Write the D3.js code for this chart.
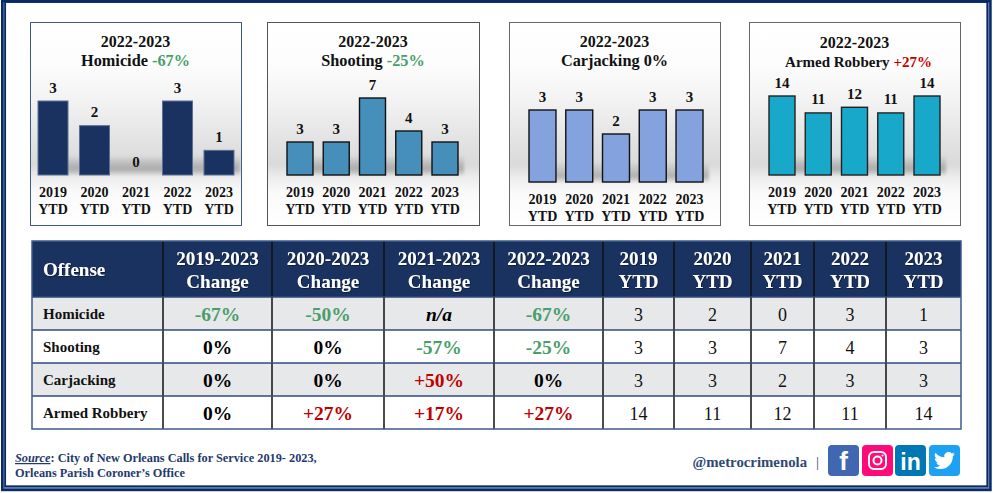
<!DOCTYPE html>
<html>
<head>
<meta charset="utf-8">
<script src="https://cdn.jsdelivr.net/npm/d3@7"></script>
<style>
  html, body { margin: 0; padding: 0; background: #fff; }
  svg { display: block; font-family: "Liberation Serif", serif; font-weight: bold; }
</style>
</head>
<body>
<svg id="chart" width="993" height="493"></svg>
<script>
const years = ["2019", "2020", "2021", "2022", "2023"];
const offenses = ["Homicide", "Shooting", "Carjacking", "Armed Robbery"];
const homicide = [3, 2, 0, 3, 1];
const shooting = [3, 3, 7, 4, 3];
const carjacking = [3, 3, 2, 3, 3];
const armedRobbery = [14, 11, 12, 11, 14];
const changeHeaders = ["2019-2023", "2020-2023", "2021-2023", "2022-2023"];
const homicideChange = ["-67%", "-50%", "n/a", "-67%"];
const shootingChange = ["0%", "0%", "-57%", "-25%"];
const carjackingChange = ["0%", "0%", "+50%", "0%"];
const robberyChange = ["0%", "+27%", "+17%", "+27%"];

const NAVY = "#1a3260";
const GREEN = "#4a9e6b";
const RED = "#c00000";

function changeColor(s) {
  if (s[0] === "-") return GREEN;
  if (s[0] === "+") return RED;
  return "#000";
}

const svg = d3.select("#chart");
const defs = svg.append("defs");

const bg = defs.append("linearGradient").attr("id", "panelBg").attr("x1", 0).attr("x2", 0).attr("y1", 0).attr("y2", 1);
[[0, "#fff"], [0.2, "#fdfdfd"], [0.38, "#f3f3f3"], [0.58, "#e3e3e3"], [0.7, "#dadada"], [0.76, "#ececec"], [0.84, "#fafafa"], [1, "#fff"]]
  .forEach(s => bg.append("stop").attr("offset", s[0]).attr("stop-color", s[1]));

const shade = defs.append("linearGradient").attr("id", "floorShade").attr("x1", 0).attr("x2", 0).attr("y1", 0).attr("y2", 1);
shade.append("stop").attr("offset", 0).attr("stop-color", "#888").attr("stop-opacity", 0);
shade.append("stop").attr("offset", 0.7).attr("stop-color", "#888").attr("stop-opacity", 0.6);
shade.append("stop").attr("offset", 1).attr("stop-color", "#888").attr("stop-opacity", 0.15);

defs.append("filter").attr("id", "soft").attr("x", "-20%").attr("width", "140%")
  .append("feGaussianBlur").attr("stdDeviation", 1.5);

defs.append("filter").attr("id", "hdrShadow")
  .append("feDropShadow").attr("dx", 0.7).attr("dy", 0.7).attr("stdDeviation", 0.5)
  .attr("flood-color", "#000").attr("flood-opacity", 0.6);

// outer frame, the gap between the two lines is a paler blue
svg.append("rect").attr("x", 3.4).attr("y", 1.5).attr("width", 985.5).attr("height", 487)
  .attr("fill", "none").attr("stroke", "#5f7db0").attr("stroke-width", 3);
svg.append("rect").attr("x", 2.2).attr("y", 1.2).attr("width", 988.3).attr("height", 488.8)
  .attr("fill", "none").attr("stroke", "#0a2a66").attr("stroke-width", 2.4);
svg.append("rect").attr("x", 5.2).attr("y", 2).attr("width", 982).attr("height", 484.2)
  .attr("fill", "none").attr("stroke", "#0a2a66").attr("stroke-width", 1.7);

const panels = [
  { name: "Homicide", change: "-67%", values: homicide, x0: 30, x1: 241, left: 38, right: 234, base: 175, top: 101, yMax: 3, fill: "#1a3260", edge: "#5a7096", edgeWidth: 1, frame: "#3d5a8c", titleY: 47, tickY: 197, subSize: 16.3, subShift: 0, padding: 0.277 },
  { name: "Shooting", change: "-25%", values: shooting, x0: 267, x1: 479, left: 287, right: 458, base: 175, top: 98, yMax: 7, fill: "#468fbb", edge: "#111", edgeWidth: 1.4, frame: "#555", titleY: 47, tickY: 197, subSize: 16.3, subShift: 0, padding: 0.283 },
  { name: "Carjacking", change: "0%", values: carjacking, x0: 509, x1: 720, left: 529, right: 703, base: 182, top: 110, yMax: 3, fill: "#84a2dd", edge: "#111", edgeWidth: 1.4, frame: "#666", titleY: 47, tickY: 204, subSize: 16.3, subShift: 0, padding: 0.266 },
  { name: "Armed Robbery", change: "+27%", values: armedRobbery, x0: 749, x1: 960, left: 769, right: 940, base: 175, top: 96, yMax: 14, fill: "#18a8c9", edge: "#222", edgeWidth: 1.4, frame: "#666", titleY: 48, tickY: 197, subSize: 15, subShift: 4, padding: 0.283 }
];

panels.forEach(p => {
  const g = svg.append("g");
  g.append("rect").attr("x", p.x0 + 0.5).attr("y", 22.5).attr("width", p.x1 - p.x0).attr("height", 203)
    .attr("fill", "url(#panelBg)").attr("stroke", p.frame).attr("stroke-width", 1);

  const x = d3.scaleBand().domain(years).range([p.left, p.right]).paddingInner(p.padding).paddingOuter(0);
  const y = d3.scaleLinear().domain([0, p.yMax]).range([p.base, p.top]);

  // soft shadow on the floor behind the bars
  g.append("rect").attr("x", p.left + 4).attr("y", p.base - 20)
    .attr("width", p.right - p.left + 2)
    .attr("height", 20).attr("fill", "url(#floorShade)").attr("filter", "url(#soft)");

  g.append("text").attr("text-anchor", "middle").attr("x", (p.x0 + p.x1) / 2)
    .attr("y", p.titleY).attr("font-size", 16).attr("fill", "#111").text("2022-2023");
  const sub = g.append("text").attr("text-anchor", "middle").attr("x", (p.x0 + p.x1) / 2 + p.subShift)
    .attr("y", p.titleY + 19).attr("font-size", p.subSize);
  sub.append("tspan").attr("fill", "#111").text(p.name + " ");
  sub.append("tspan").attr("fill", p.change === "0%" ? "#111" : changeColor(p.change)).text(p.change);

  g.selectAll("rect.bar").data(p.values).join("rect")
    .attr("class", "bar")
    .attr("x", (d, i) => x(years[i]))
    .attr("width", x.bandwidth())
    .attr("y", d => y(d))
    .attr("height", d => p.base - y(d))
    .attr("fill", p.fill)
    .attr("stroke", d => d > 0 ? p.edge : "none")
    .attr("stroke-width", p.edgeWidth);

  g.selectAll("text.val").data(p.values).join("text")
    .attr("class", "val")
    .attr("text-anchor", "middle")
    .attr("x", (d, i) => x(years[i]) + x.bandwidth() / 2)
    .attr("y", d => y(d) - 8.5)
    .attr("font-size", 15)
    .attr("fill", "#111")
    .text(d => d);

  const axis = g.append("g").attr("transform", `translate(0,${p.tickY})`)
    .call(d3.axisBottom(x).tickSize(0).tickPadding(0));
  axis.select(".domain").remove();
  axis.selectAll(".tick text").each(function(d) {
    const t = d3.select(this).text(null).attr("font-size", 14)
      .attr("font-family", "Liberation Serif").attr("fill", "#111").attr("y", 0).attr("dy", null);
    t.append("tspan").attr("x", 0).attr("y", 0).text(d);
    t.append("tspan").attr("x", 0).attr("y", 16.5).text("YTD");
  });
});

// table
const colEdges = [32, 163, 272, 384, 494, 603, 674, 751, 814, 886, 961];
const rowEdges = [241, 297, 330, 363, 396, 429];
const tableRows = [
  { name: offenses[0], change: homicideChange, values: homicide },
  { name: offenses[1], change: shootingChange, values: shooting },
  { name: offenses[2], change: carjackingChange, values: carjacking },
  { name: offenses[3], change: robberyChange, values: armedRobbery }
];
const table = svg.append("g");
const cx = i => (colEdges[i] + colEdges[i + 1]) / 2;

table.append("rect").attr("x", colEdges[0]).attr("y", rowEdges[0])
  .attr("width", colEdges[10] - colEdges[0]).attr("height", rowEdges[1] - rowEdges[0]).attr("fill", NAVY);

tableRows.forEach((r, i) => {
  const yTop = rowEdges[i + 1], yBot = rowEdges[i + 2], mid = (yTop + yBot) / 2 + 7;
  table.append("rect").attr("x", colEdges[0]).attr("y", yTop)
    .attr("width", colEdges[10] - colEdges[0]).attr("height", yBot - yTop)
    .attr("fill", i % 2 ? "#fff" : "#e7e8ea");
  table.append("text").attr("x", 43).attr("y", mid - 2).attr("font-size", 15).attr("fill", "#111").text(r.name);
  r.change.forEach((c, j) => {
    table.append("text").attr("x", cx(j + 1)).attr("y", mid).attr("text-anchor", "middle")
      .attr("font-size", 19.5).attr("fill", changeColor(c))
      .attr("font-style", c === "n/a" ? "italic" : null).text(c);
  });
  r.values.forEach((v, j) => {
    table.append("text").attr("x", cx(j + 5)).attr("y", mid).attr("text-anchor", "middle")
      .attr("font-size", 18).attr("font-weight", "normal").attr("fill", "#111").text(v);
  });
});

// grid lines
colEdges.slice(1, -1).forEach(e => {
  table.append("line").attr("x1", e).attr("x2", e).attr("y1", rowEdges[0]).attr("y2", rowEdges[5])
    .attr("stroke", "#111").attr("stroke-width", 1.5);
});
rowEdges.slice(1, -1).forEach(e => {
  table.append("line").attr("x1", colEdges[0]).attr("x2", colEdges[10]).attr("y1", e).attr("y2", e)
    .attr("stroke", "#2f4a80").attr("stroke-width", 1.5);
});
table.append("rect").attr("x", colEdges[0]).attr("y", rowEdges[0])
  .attr("width", colEdges[10] - colEdges[0]).attr("height", rowEdges[5] - rowEdges[0])
  .attr("fill", "none").attr("stroke", "#3d5a8c").attr("stroke-width", 1.5);

// header text
const hdr = (x, y, s, anchor) => table.append("text").attr("x", x).attr("y", y)
  .attr("text-anchor", anchor || "middle").attr("font-size", 19).attr("fill", "#fff")
  .attr("filter", "url(#hdrShadow)").text(s);
hdr(43, 276, "Offense", "start");
changeHeaders.forEach((h, i) => {
  hdr(cx(i + 1), 265, h);
  hdr(cx(i + 1), 288, "Change");
});
years.forEach((h, i) => {
  hdr(cx(i + 5), 265, h);
  hdr(cx(i + 5), 288, "YTD");
});

// source note
const src = svg.append("g").attr("fill", "#1f3a6e").attr("font-size", 12.3);
const l1 = src.append("text").attr("x", 15).attr("y", 462);
l1.append("tspan").attr("font-style", "italic").attr("text-decoration", "underline").text("Source");
l1.append("tspan").text(": City of New Orleans Calls for Service 2019- 2023,");
src.append("text").attr("x", 15).attr("y", 477).text("Orleans Parish Coroner\u2019s Office");

// handle and icons
svg.append("text").attr("x", 692.5).attr("y", 467).attr("font-size", 14.8).attr("fill", "#2f4a72").text("@metrocrimenola");
svg.append("text").attr("x", 816).attr("y", 467).attr("font-size", 15).attr("font-weight", "normal").attr("fill", "#2f4a72").text("|");

const icons = [
  { name: "facebook", x: 828, color: "#4267b2" },
  { name: "instagram", x: 862, color: "#ff0a78" },
  { name: "linkedin", x: 895, color: "#0077b5" },
  { name: "twitter", x: 929, color: "#1da1f2" }
];
icons.forEach(ic => {
  const g = svg.append("g").attr("transform", `translate(${ic.x},445)`);
  g.append("rect").attr("width", 31).attr("height", 31).attr("rx", 4).attr("fill", ic.color);
  if (ic.name === "facebook") {
    g.append("text").attr("x", 15.5).attr("y", 25).attr("text-anchor", "middle")
      .attr("font-family", "Liberation Sans").attr("font-size", 26).attr("fill", "#fff").text("f");
  } else if (ic.name === "linkedin") {
    g.append("text").attr("x", 15.5).attr("y", 25).attr("text-anchor", "middle")
      .attr("font-family", "Liberation Sans").attr("font-size", 23).attr("fill", "#fff").text("in");
  } else if (ic.name === "instagram") {
    g.append("rect").attr("x", 7).attr("y", 7).attr("width", 17).attr("height", 17).attr("rx", 5)
      .attr("fill", "none").attr("stroke", "#fff").attr("stroke-width", 2);
    g.append("circle").attr("cx", 15.5).attr("cy", 15.5).attr("r", 4)
      .attr("fill", "none").attr("stroke", "#fff").attr("stroke-width", 2);
    g.append("circle").attr("cx", 20.5).attr("cy", 10.5).attr("r", 1.1).attr("fill", "#fff");
  } else {
    g.append("path").attr("transform", "translate(5,5) scale(0.875)")
      .attr("fill", "#fff")
      .attr("d", "M24 4.6a9.8 9.8 0 0 1-2.8.8 4.9 4.9 0 0 0 2.2-2.7 9.8 9.8 0 0 1-3.1 1.2 4.9 4.9 0 0 0-8.4 4.5A14 14 0 0 1 1.7 3.2a4.9 4.9 0 0 0 1.5 6.6 4.9 4.9 0 0 1-2.2-.6v.1a4.9 4.9 0 0 0 3.9 4.8 4.9 4.9 0 0 1-2.2.1 4.9 4.9 0 0 0 4.6 3.4A9.9 9.9 0 0 1 0 19.6a14 14 0 0 0 7.5 2.2c9.1 0 14-7.5 14-14v-.6A10 10 0 0 0 24 4.6z");
  }
});
</script>
</body>
</html>
